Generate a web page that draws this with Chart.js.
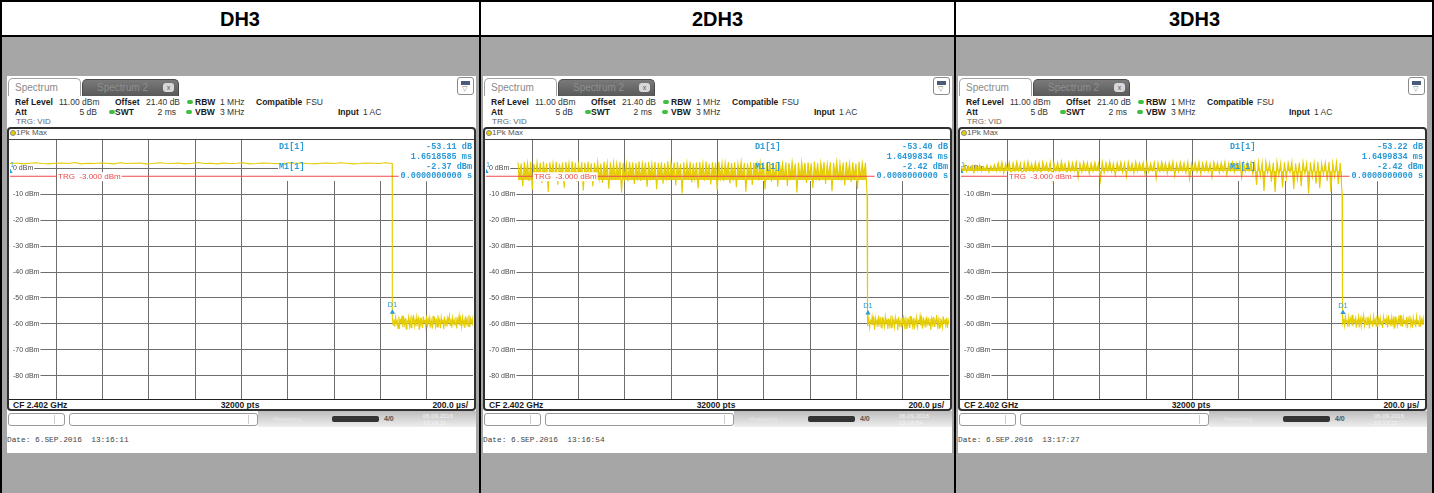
<!DOCTYPE html>
<html>
<head>
<meta charset="utf-8">
<script src="https://cdn.jsdelivr.net/npm/chart.js@4.4.0/dist/chart.umd.min.js"></script>
<style>
body { margin: 0; width: 1434px; height: 493px; overflow: hidden; background: #a6a6a6; font-family: "Liberation Sans", Arial, sans-serif; position: relative; }
.head { position: absolute; left: 0; top: 0; width: 1434px; height: 36px; background: #fff; }
.title { position: absolute; top: 0; height: 36px; font: bold 20px "Liberation Sans", Arial, sans-serif; line-height: 38px; text-align: center; color: #000; }
.vline { position: absolute; top: 0; width: 2px; height: 493px; background: #000; }
.hline { position: absolute; left: 0; width: 1434px; height: 2px; background: #000; }
.screen { position: absolute; top: 76px; width: 469px; height: 377px; background: #fff; }
.screen * { position: absolute; white-space: nowrap; }
.t { font-size: 8.5px; line-height: 10px; color: #333; }
.t.b { font-weight: bold; color: #1a1a1a; }
.dot { width: 6px; height: 4px; border-radius: 2px; background: #3fbf3f; }
.tab1 { left: 1px; top: 2px; width: 73px; height: 18px; border: 1px solid #a0a0a0; border-bottom: none; border-radius: 5px 5px 0 0; background: #fff; color: #8a8a8a; font-size: 10px; line-height: 18px; padding-left: 6px; box-sizing: border-box; }
.tab2 { left: 75px; top: 3px; width: 97px; height: 17px; border: 1px solid #4a4a4a; border-bottom: none; border-radius: 5px 5px 0 0; background: linear-gradient(#7a7a7a, #595959); color: #8e8e8e; font-size: 10px; line-height: 16px; padding-left: 14px; box-sizing: border-box; }
.close { left: 80px; top: 3px; width: 11px; height: 9px; border-radius: 3px; background: #d8d8d8; color: #555; font-size: 7px; line-height: 9px; text-align: center; }
.menu { left: 450px; top: 1px; width: 17px; height: 18px; border: 1px solid #8a8a8a; border-radius: 3px; box-sizing: border-box; background: #fff; }
.menu i { left: 3px; top: 3px; width: 9px; height: 4px; background: #4a5a7a; }
.menu b { left: 4px; top: 7px; font-size: 7px; line-height: 8px; color: #777; font-weight: normal; }
.tbox { left: 0; top: 51px; width: 469px; height: 284px; border: 2px solid #303030; border-radius: 4px; box-sizing: border-box; }
.pkdot { left: 3px; top: 54px; width: 6px; height: 6px; border-radius: 50%; background: #e8d000; border: 1px solid #888; box-sizing: border-box; }
.sep { left: 2px; width: 465px; height: 1px; background: #444; }
.foot { font-size: 8.5px; font-weight: bold; line-height: 10px; color: #1a1a1a; top: 324px; }
.sbox { top: 337px; height: 13px; border: 1px solid #9a9a9a; border-radius: 3px; box-sizing: border-box; background: #fff; }
.sbox i { top: 1px; width: 1px; height: 9px; background: #ccc; }
.sgrad { left: 251px; top: 335px; width: 218px; height: 16px; background: linear-gradient(#bdbdbd, #efefef); }
.date { left: 0; top: 359px; font: 7.8px "Liberation Mono", monospace; line-height: 10px; color: #444; white-space: pre; }
canvas { left: 3px; top: 64px; }
</style>
</head>
<body>
<div class="head"></div>
<div id="frame"></div>
<script>
// column layout of the table
const colEdges = [0, 480, 955, 1434];
const screenLeft = [7, 483, 958];
const panelTitles = ['DH3', '2DH3', '3DH3'];
const captureTimes = ['13:16:11', '13:16:54', '13:17:27'];

// axes: ref level 11 dBm, 10 dB/div, 200 us/div
const refLevel = 11;
const bottomLevel = -89;
const sweepMs = 2;
const levelTicks = [0, -10, -20, -30, -40, -50, -60, -70, -80];
const timeTicks = [0.2, 0.4, 0.6, 0.8, 1.0, 1.2, 1.4, 1.6, 1.8];
const trgLevel = -3;

// marker readouts
const d1Deltas = ['-53.11 dB', '-53.40 dB', '-53.22 dB'];
const d1Times = ['1.6518585 ms', '1.6499834 ms', '1.6499834 ms'];
const m1Levels = ['-2.37 dBm', '-2.42 dBm', '-2.42 dBm'];
const m1Times = ['0.0000000000 s', '0.0000000000 s', '0.0000000000 s'];
// marker positions as seen on the traces
const d1Ms = [1.6519, 1.6500, 1.6500];
const d1Dbm = [-55.5, -55.8, -55.6];
const m1Dbm = [-1.2, -1.2, -1.2];

// DH3 trace
const dh3OnMs = [0, 1.651];
const dh3On = [1.9,2.1,1.8,2.0,2.2,1.9,1.8,2.0,2.1,1.9,2.3,1.8,2.0,1.9,2.1,2.0,1.8,2.2,1.9,2.0,2.1,1.8,1.9,2.2,2.0,1.9,2.1,1.8,2.0,2.3,
  1.9,2.0,1.8,2.1,1.9,2.0,2.2,1.8,1.9,2.1,2.0,1.9,1.8,2.2,2.0,2.1,1.9,1.8,2.0,2.1,1.9,2.2,2.0,1.8,1.9,2.1,2.0,1.9,2.2,1.9];
const dh3FloorMs = [1.6515, 2];
const dh3Floor = [-57.8,-60.4,-58.2,-61.1,-57.5,-59.9,-58.8,-61.8,-57.2,-60.6,-58.5,-59.4,-56.9,-61.3,-58.1,-60.2,-57.7,-62.0,-58.9,-59.6,
  -57.4,-60.9,-58.3,-61.5,-57.9,-59.2,-56.6,-60.7,-58.6,-61.0,-57.3,-59.8,-58.0,-62.3,-57.6,-60.1,-58.7,-61.6,-57.1,-59.5,
  -58.4,-60.8,-56.8,-61.4,-58.2,-59.7,-57.5,-60.5,-58.9,-61.9,-57.0,-59.3,-58.1,-60.9,-57.8,-61.2,-56.7,-60.0,-58.5,-61.7,
  -57.4,-59.6,-58.3,-62.1,-57.2,-60.3,-58.8,-61.0,-57.6,-59.1,-56.9,-60.6,-58.0,-61.5,-57.7,-59.9,-58.6,-60.4,-57.3,-61.8,
  -58.2,-59.4,-56.8,-60.7,-58.4,-61.1,-57.5,-60.2,-58.7,-61.6,-57.1,-59.8,-58.3,-60.9,-56.6,-61.3,-58.1,-59.5,-57.9,-60.8];

// 2DH3 trace (nothing visible before the burst starts)
const twoDh3BurstMs = [0.138, 1.646];
const twoDh3Burst = [2.3,-3.1,1.9,-6.8,2.5,-2.4,2.1,-4.9,2.6,-8.2,1.8,-3.6,2.4,-2.9,2.2,-5.7,2.7,-3.3,2.0,-9.1,
  2.4,-2.6,2.1,-4.2,2.6,-6.3,1.9,-3.0,2.3,-7.4,2.5,-2.7,2.0,-4.6,2.8,-3.8,2.2,-5.2,1.7,-2.5,
  2.4,-8.6,2.3,-3.4,2.6,-4.0,2.0,-6.9,2.2,-2.8,2.5,-3.9,1.9,-5.5,2.7,-2.3,2.1,-7.8,2.4,-3.2,
  2.3,-4.4,2.0,-2.6,2.6,-9.4,2.2,-3.7,1.8,-5.0,2.5,-2.9,2.4,-6.1,2.1,-3.5,2.7,-4.8,2.0,-2.4,
  2.3,-7.1,2.5,-3.3,1.9,-4.1,2.6,-8.0,2.2,-2.7,2.4,-5.9,2.0,-3.6,2.8,-4.5,2.1,-2.5,2.3,-6.6,
  2.5,-3.0,1.8,-9.6,2.4,-4.3,2.2,-2.8,2.6,-5.4,2.0,-3.8,2.3,-7.7,2.5,-2.6,2.1,-4.7,2.7,-3.1,
  1.9,-6.2,2.4,-2.9,2.2,-8.4,2.6,-3.5,2.0,-4.9,2.3,-2.4,2.5,-5.8,2.1,-3.7,2.4,-7.2,1.8,-2.8,
  2.6,-4.0,2.2,-9.0,2.0,-3.2,2.5,-6.4,2.3,-2.6,2.7,-4.6,2.1,-3.4,2.4,-8.1,1.9,-2.9,2.6,-5.1,
  2.2,-3.9,2.3,-7.0,2.5,-2.5,2.0,-4.2,2.4,-6.7,2.1,-3.3,2.6,-2.7,1.9,-9.3,2.3,-4.4,2.5,-3.0,
  2.2,-5.6,2.4,-2.8,2.0,-7.5,2.7,-3.6,2.1,-4.8,2.3,-2.4,2.5,-6.0,1.8,-3.1,2.4,-8.8,2.2,-2.6,
  2.6,-4.5,2.0,-3.7,2.3,-6.5,2.5,-2.9,2.1,-5.3,2.4,-3.2,1.9,-7.9,2.6,-4.1,2.2,-2.5,2.3,-9.8];
const twoDh3FloorMs = [1.6465, 2];
const twoDh3Floor = [-58.4,-60.9,-57.6,-61.4,-58.9,-59.7,-57.2,-60.5,-58.1,-62.2,-57.8,-60.0,-58.6,-61.2,-56.9,-59.9,-58.3,-61.7,-57.4,-60.3,
  -58.8,-61.0,-57.1,-59.6,-58.5,-62.0,-57.9,-60.6,-58.2,-61.5,-56.8,-60.1,-58.7,-61.3,-57.5,-59.8,-58.0,-62.4,-57.3,-60.4,
  -58.9,-61.1,-57.7,-59.5,-56.7,-60.8,-58.4,-61.8,-57.6,-60.2,-58.6,-61.6,-57.0,-59.7,-58.2,-60.9,-57.8,-62.1,-58.5,-60.0,
  -57.4,-61.2,-58.8,-59.4,-56.9,-60.7,-58.1,-61.9,-57.5,-60.3,-58.7,-61.4,-57.2,-59.9,-58.3,-60.6,-57.9,-62.3,-58.0,-60.1,
  -57.3,-61.0,-58.6,-59.6,-56.6,-60.8,-58.4,-61.7,-57.7,-60.4,-58.9,-61.3,-57.1,-59.8,-58.2,-60.5,-57.6,-61.6,-58.5,-60.2];

// 3DH3 trace
const threeDh3BurstMs = [0, 1.646];
const threeDh3Burst = [1.0,-0.8,1.3,-1.2,0.9,-0.5,1.2,-1.6,1.1,-0.9,1.4,-1.1,0.8,-0.6,1.3,-1.4,1.0,-0.7,1.5,-1.0,
  2.2,-0.9,2.5,-1.8,1.9,-0.6,2.4,-2.7,2.1,-1.2,2.6,-0.8,2.0,-3.9,2.3,-1.5,2.7,-0.7,1.9,-1.9,
  2.4,-1.0,2.2,-2.4,2.6,-0.5,2.0,-1.4,2.5,-4.3,2.1,-0.9,2.3,-1.7,2.8,-0.6,1.9,-2.2,2.4,-1.1,
  2.2,-0.8,2.5,-3.4,2.0,-1.3,2.6,-0.7,2.3,-2.0,2.1,-1.0,2.4,-0.5,1.9,-4.6,2.5,-1.6,2.2,-0.9,
  2.7,-1.2,2.0,-2.6,2.3,-0.6,2.5,-1.5,2.1,-3.1,2.4,-0.8,1.9,-1.8,2.6,-1.0,2.2,-0.5,2.3,-2.3,
  2.5,-1.3,2.0,-0.7,2.4,-3.8,2.2,-1.1,2.6,-0.9,2.1,-1.9,2.3,-0.6,2.7,-2.8,1.9,-1.2,2.4,-0.8,
  2.2,-1.6,2.5,-4.1,2.0,-0.7,2.3,-1.4,2.6,-2.1,2.1,-0.9,2.4,-1.2,1.9,-3.3,2.5,-0.6,2.2,-1.7,
  2.3,-1.0,2.6,-2.5,2.0,-0.8,2.4,-1.5,2.2,-0.5,2.5,-3.6,2.1,-1.1,2.3,-0.9,
  2.4,-2.2,2.1,-6.4,2.5,-3.0,2.2,-8.7,2.6,-1.8,2.0,-5.1,2.3,-9.2,2.5,-2.6,2.1,-7.3,2.4,-3.9,
  2.2,-1.5,2.6,-8.0,2.0,-4.4,2.3,-6.8,2.5,-2.1,2.1,-9.5,2.4,-3.3,2.2,-5.9,2.6,-7.6,2.0,-2.4,
  2.3,-4.8,2.5,-8.9,2.1,-3.1,2.4,-6.1,2.2,-9.7];
const threeDh3FloorMs = [1.6465, 2];
const threeDh3Floor = [-57.6,-59.8,-58.3,-60.7,-57.1,-59.4,-58.8,-61.2,-57.4,-60.1,-58.0,-59.6,-56.5,-60.9,-58.4,-59.2,-57.8,-61.5,-58.6,-59.9,
  -57.2,-60.4,-58.1,-61.0,-57.7,-59.3,-56.8,-60.6,-58.5,-60.2,-57.3,-59.7,-58.2,-61.8,-57.5,-60.0,-58.7,-61.3,-57.0,-59.5,
  -58.3,-60.8,-56.9,-61.1,-58.0,-59.8,-57.6,-60.3,-58.9,-61.6,-57.2,-59.1,-58.4,-60.5,-57.9,-61.4,-56.7,-59.6,-58.6,-61.0,
  -57.4,-59.9,-58.1,-61.9,-57.1,-60.2,-58.8,-60.7,-57.8,-59.4,-56.6,-60.9,-58.2,-61.2,-57.5,-59.7,-58.5,-60.3,-57.3,-61.7,
  -58.0,-59.2,-56.9,-60.6,-58.7,-61.5,-57.6,-60.1,-58.3,-61.3,-57.0,-59.5,-58.9,-60.8,-56.8,-61.1,-58.4,-59.8,-57.7,-60.4];

const traceSegments = [
  [[dh3OnMs, dh3On], [dh3FloorMs, dh3Floor]],
  [[twoDh3BurstMs, twoDh3Burst], [twoDh3FloorMs, twoDh3Floor]],
  [[threeDh3BurstMs, threeDh3Burst], [threeDh3FloorMs, threeDh3Floor]]
];
// dense part of each noisy burst: the band is solid from its top down to this level
const burstSegment = [null, [twoDh3BurstMs, twoDh3Burst], [threeDh3BurstMs, threeDh3Burst]];
const burstCoreLevel = [null, -4.4, -1.0];

const traceColor = '#e4cc00';
const markerBlue = '#2a9ad8';
const trgRed = '#f04848';
const gridColor = '#6e6e6e';

// samples of a segment are spread evenly over its time span
function segmentPoints(span, levels) {
  const step = (span[1] - span[0]) / (levels.length - 1);
  return levels.map((v, i) => ({ x: span[0] + i * step, y: v }));
}

function screenHtml(i) {
  return `
  <div class="tab1">Spectrum</div>
  <div class="tab2">Spectrum 2<span class="close">x</span></div>
  <div class="menu"><i></i><b>&#9661;</b></div>
  <span class="t b" style="left:8px;top:21px">Ref Level</span>
  <span class="t" style="left:52px;top:21px">11.00 dBm</span>
  <span class="t b" style="left:108px;top:21px">Offset</span>
  <span class="t" style="left:139px;top:21px">21.40 dB</span>
  <span class="dot" style="left:180px;top:24px"></span>
  <span class="t b" style="left:188px;top:21px">RBW</span>
  <span class="t" style="left:213px;top:21px">1 MHz</span>
  <span class="t b" style="left:249px;top:21px">Compatible</span>
  <span class="t" style="left:299px;top:21px">FSU</span>
  <span class="t b" style="left:8px;top:31px">Att</span>
  <span class="t" style="right:379px;top:31px">5 dB</span>
  <span class="dot" style="left:102px;top:34px"></span>
  <span class="t b" style="left:108px;top:31px">SWT</span>
  <span class="t" style="right:300px;top:31px">2 ms</span>
  <span class="dot" style="left:179px;top:34px"></span>
  <span class="t b" style="left:188px;top:31px">VBW</span>
  <span class="t" style="left:213px;top:31px">3 MHz</span>
  <span class="t b" style="left:331px;top:31px">Input</span>
  <span class="t" style="left:356px;top:31px">1 AC</span>
  <span class="t" style="left:9px;top:41px;font-size:8px;color:#666">TRG: VID</span>
  <div class="tbox"></div>
  <div class="pkdot"></div>
  <span class="t" style="left:9px;top:52px;font-size:8px;color:#555">1Pk Max</span>
  <div class="sep" style="top:63px"></div>
  <canvas id="plot${i}" width="463" height="259"></canvas>
  <div class="sep" style="top:323px;background:#222"></div>
  <span class="foot" style="left:6px">CF 2.402 GHz</span>
  <span class="foot" style="left:233px;transform:translateX(-50%)">32000 pts</span>
  <span class="foot" style="right:8px">200.0 µs/</span>
  <div class="sbox" style="left:1px;width:57px"><i style="left:45px"></i></div>
  <div class="sbox" style="left:62px;width:189px"><i style="left:178px"></i></div>
  <div class="sgrad"></div>
  <span class="t" style="left:266px;top:338px;font-size:6px;color:#e8e8e8">Measuring...</span>
  <div style="left:325px;top:340px;width:47px;height:6px;border-radius:2px;background:#333"></div>
  <span class="t b" style="left:377px;top:338px;font-size:7px;color:#555">4/0</span>
  <span class="t" style="left:416px;top:337px;font-size:6px;line-height:7px;color:#f4f4f4">06.09.2016<br>${captureTimes[i]}</span>
  <div class="date">Date: 6.SEP.2016  ${captureTimes[i]}</div>`;
}

// marker table, trigger label and marker tags drawn on the plot
const markerInfo = {
  id: 'markerInfo',
  beforeDatasetsDraw(chart) {
    const { ctx, chartArea: a } = chart;
    ctx.save();
    ctx.fillStyle = '#fff';
    ctx.fillRect(a.left + 268, a.top, a.right - a.left - 268, 41);
    ctx.restore();
  },
  afterDatasetsDraw(chart, args, opts) {
    const { ctx, chartArea: a, scales: { x, y } } = chart;
    const lx = a.left + 269;
    const rx = a.right - 1;
    ctx.save();
    ctx.textBaseline = 'middle';
    ctx.font = 'bold 8.5px "Liberation Mono"';
    ctx.fillStyle = markerBlue;
    ctx.textAlign = 'left';
    ctx.fillText('D1[1]', lx, a.top + 7);
    ctx.fillText('M1[1]', lx, a.top + 27);
    ctx.textAlign = 'right';
    ctx.fillText(opts.d1Delta, rx, a.top + 7);
    ctx.fillText(opts.d1Time, rx, a.top + 17);
    ctx.fillText(opts.m1Level, rx, a.top + 27);

    // trigger time sits on the TRG line
    const ty = y.getPixelForValue(trgLevel);
    const tw = ctx.measureText(opts.m1Time).width;
    ctx.fillStyle = '#fff';
    ctx.fillRect(rx - tw - 2, ty - 4, tw + 3, 9);
    ctx.fillStyle = markerBlue;
    ctx.fillText(opts.m1Time, rx, ty);

    // TRG label
    ctx.font = '8px "Liberation Sans"';
    ctx.textAlign = 'left';
    const label = 'TRG  -3.000 dBm';
    const lw = ctx.measureText(label).width;
    ctx.fillStyle = '#fff';
    ctx.fillRect(a.left + 47, ty - 4, lw + 2, 9);
    ctx.fillStyle = trgRed;
    ctx.fillText(label, a.left + 48, ty + 0.5);

    // marker tags
    ctx.fillStyle = markerBlue;
    ctx.font = '7.5px "Liberation Sans"';
    ctx.textAlign = 'center';
    ctx.fillText('D1', x.getPixelForValue(opts.d1Ms), y.getPixelForValue(opts.d1Dbm) - 7);
    ctx.font = '6.5px "Liberation Sans"';
    ctx.fillText('1', a.left + 2, y.getPixelForValue(opts.m1Dbm) - 6);
    ctx.restore();
  }
};

// keep the plot area filling the whole canvas
function flatAxis(axis, vertical) {
  if (vertical) axis.width = 0; else axis.height = 0;
  axis.paddingTop = 0;
  axis.paddingBottom = 0;
  axis.paddingLeft = 0;
  axis.paddingRight = 0;
}

function drawPanel(i) {
  const trace = [];
  traceSegments[i].forEach(seg => trace.push(...segmentPoints(seg[0], seg[1])));

  const datasets = [
    {
      data: [{ x: 0, y: m1Dbm[i] }, { x: d1Ms[i], y: d1Dbm[i] }],
      showLine: false, pointStyle: 'triangle', pointRadius: 3,
      pointBackgroundColor: markerBlue, pointBorderWidth: 0
    },
    {
      data: [{ x: 0, y: trgLevel }, { x: sweepMs, y: trgLevel }],
      borderColor: trgRed, borderWidth: 1, pointRadius: 0
    },
    {
      data: trace,
      borderColor: traceColor, borderWidth: 1.1, pointRadius: 0, tension: 0
    }
  ];
  if (burstSegment[i]) {
    datasets.push({
      data: segmentPoints(burstSegment[i][0], burstSegment[i][1]),
      borderWidth: 0, pointRadius: 0, tension: 0,
      fill: { value: burstCoreLevel[i] },
      backgroundColor: 'rgba(228, 204, 0, 0.9)'
    });
  }

  new Chart(document.getElementById('plot' + i), {
    type: 'line',
    data: { datasets },
    options: {
      responsive: false,
      animation: false,
      devicePixelRatio: 1,
      layout: { padding: 0, autoPadding: false },
      events: [],
      plugins: {
        legend: { display: false },
        tooltip: { enabled: false },
        filler: { propagate: false },
        markerInfo: {
          d1Delta: d1Deltas[i], d1Time: d1Times[i], m1Level: m1Levels[i], m1Time: m1Times[i],
          d1Ms: d1Ms[i], d1Dbm: d1Dbm[i], m1Dbm: m1Dbm[i]
        }
      },
      scales: {
        x: {
          type: 'linear', min: 0, max: sweepMs,
          afterBuildTicks: axis => { axis.ticks = timeTicks.map(v => ({ value: v })); },
          afterFit: axis => flatAxis(axis, false),
          ticks: { display: false },
          grid: { color: gridColor, lineWidth: 1, drawTicks: false },
          border: { display: false }
        },
        y: {
          type: 'linear', min: bottomLevel, max: refLevel,
          afterBuildTicks: axis => { axis.ticks = levelTicks.map(v => ({ value: v })); },
          afterFit: axis => flatAxis(axis, true),
          ticks: {
            mirror: true, padding: 3, autoSkip: false,
            color: '#4a4a4a', font: { family: 'Liberation Sans', size: 7 },
            callback: v => v + ' dBm',
            showLabelBackdrop: true, backdropColor: '#fff',
            backdropPadding: { left: 3, right: 1, top: 0, bottom: 0 }
          },
          grid: { color: gridColor, lineWidth: 1, drawTicks: false },
          border: { display: false }
        }
      }
    },
    plugins: [markerInfo]
  });
}

const frame = document.getElementById('frame');
let html = '';
panelTitles.forEach((title, i) => {
  html += `<div class="title" style="left:${colEdges[i]}px;width:${colEdges[i + 1] - colEdges[i]}px">${title}</div>`;
  html += `<div class="screen" style="left:${screenLeft[i]}px">${screenHtml(i)}</div>`;
});
[0, 479, 954, 1432].forEach(x => { html += `<div class="vline" style="left:${x}px"></div>`; });
html += '<div class="hline" style="top:0"></div><div class="hline" style="top:35px"></div>';
frame.innerHTML = html;

panelTitles.forEach((t, i) => drawPanel(i));
</script>
</body>
</html>
